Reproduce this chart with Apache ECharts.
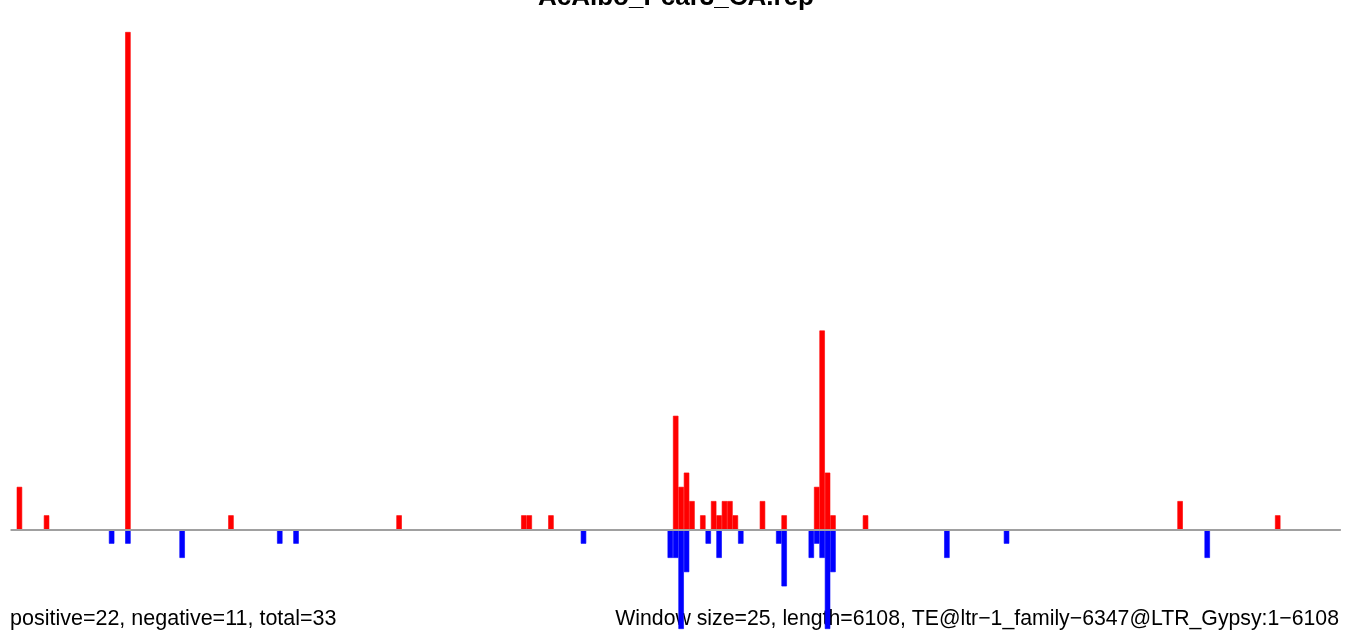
<!DOCTYPE html>
<html>
<head>
<meta charset="utf-8">
<script src="https://cdn.jsdelivr.net/npm/echarts@6/dist/echarts.min.js"></script>
<style>
html,body{margin:0;padding:0;background:#fff;}
#chart{width:1352px;height:641px;}
</style>
</head>
<body>
<div id="chart"></div>
<script>
// Data (window index -> count), window size 25 bp
var windowSize = 25;
var seqLength = 6108;
var windowCount = 245;
var posIdx = [1, 6, 21, 40, 71, 94, 95, 99, 122, 123, 124, 125, 127, 129, 130, 131, 132, 133, 138, 142, 148, 149, 150, 151, 157, 215, 233];
var posVal = [3, 1, 35, 1, 1, 1, 1, 1, 8, 3, 4, 2, 1, 2, 1, 2, 2, 1, 2, 1, 3, 14, 4, 1, 1, 2, 1];
var negIdx = [18, 21, 31, 49, 52, 105, 121, 122, 123, 124, 128, 130, 134, 141, 142, 147, 148, 149, 150, 151, 172, 183, 220];
var negVal = [1, 1, 2, 1, 1, 1, 2, 2, 7, 3, 1, 2, 1, 1, 4, 2, 1, 2, 7, 3, 2, 1, 2];
var titleText = 'AcAlbo_Pcar3_CA.rep';
var leftNote = 'positive=22, negative=11, total=33';
var rightNote = 'Window size=25, length=6108, TE@ltr\u22121_family\u22126347@LTR_Gypsy:1\u22126108';

var categories = [];
var posData = [];
var negData = [];
for (var i = 0; i < windowCount; i++) {
  categories.push(String(i * windowSize));
  posData.push(0);
  negData.push(0);
}
posIdx.forEach(function (k, j) { posData[k] = posVal[j]; });
negIdx.forEach(function (k, j) { negData[k] = -negVal[j]; });

var chart = echarts.init(document.getElementById('chart'), null, {renderer: 'canvas'});
chart.setOption({
  animation: false,
  backgroundColor: '#ffffff',
  grid: {left: 11.3, width: 1328.8, top: 32, height: 597, containLabel: false},
  xAxis: {
    type: 'category',
    data: categories,
    boundaryGap: true,
    z: 5,
    axisLine: {show: true, onZero: true, lineStyle: {color: '#a0a0a0', width: 2}},
    axisTick: {show: false},
    axisLabel: {show: false},
    splitLine: {show: false}
  },
  yAxis: {
    type: 'value',
    min: -7,
    max: 35,
    axisLine: {show: false},
    axisTick: {show: false},
    axisLabel: {show: false},
    splitLine: {show: false}
  },
  graphic: {
    elements: [
      {type: 'text', z: 0, x: 676, y: 11, style: {text: titleText, fill: '#000', font: 'bold 26px "Liberation Sans", Arial, sans-serif', textAlign: 'center', textVerticalAlign: 'bottom'}},
      {type: 'text', z: 0, x: 10, y: 630, style: {text: leftNote, fill: '#000', font: '21.5px "Liberation Sans", Arial, sans-serif', textAlign: 'left', textVerticalAlign: 'bottom'}},
      {type: 'text', z: 0, x: 1339, y: 630, style: {text: rightNote, fill: '#000', font: '21.25px "Liberation Sans", Arial, sans-serif', textAlign: 'right', textVerticalAlign: 'bottom'}}
    ]
  },
  series: [
    {type: 'bar', name: 'positive', data: posData, z: 3, barGap: '-100%', barCategoryGap: '0%', itemStyle: {color: '#ff0000', borderColor: '#ff0000', borderWidth: 0.6}},
    {type: 'bar', name: 'negative', data: negData, z: 3, barGap: '-100%', barCategoryGap: '0%', itemStyle: {color: '#0000ff', borderColor: '#0000ff', borderWidth: 0.6}}
  ]
});
</script>
</body>
</html>
